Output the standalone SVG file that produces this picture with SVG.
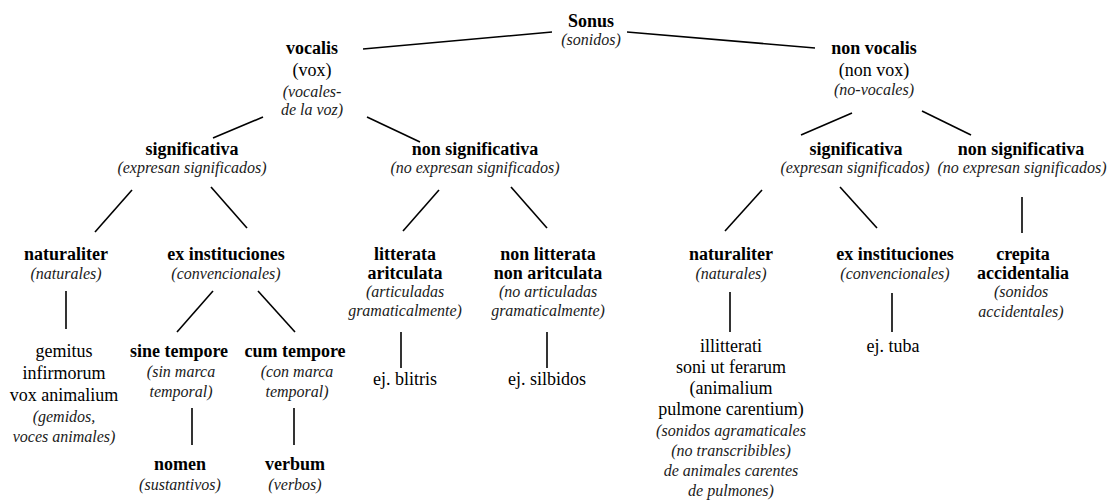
<svg xmlns="http://www.w3.org/2000/svg" width="1109" height="501" viewBox="0 0 1109 501">
<style>
text{fill:#000;text-anchor:middle}
.b{font-weight:bold;font-size:18px}
.r{font-size:18px}
.i{font-style:italic;font-size:16px;fill:#1a1a1a}
.c line{stroke:#000;stroke-width:1.6}
</style>
<rect width="1109" height="501" fill="#fff"/>
<g class="c" id="connectors">
<line x1="363" y1="49" x2="552" y2="32"/>
<line x1="627" y1="32" x2="815" y2="48"/>
<line x1="263" y1="117" x2="213" y2="138"/>
<line x1="367" y1="117" x2="420" y2="142"/>
<line x1="852" y1="113" x2="801" y2="135"/>
<line x1="922" y1="111" x2="971" y2="135"/>
<line x1="132" y1="190" x2="95" y2="232"/>
<line x1="211" y1="187" x2="247" y2="228"/>
<line x1="439" y1="190" x2="403" y2="231"/>
<line x1="511" y1="187" x2="547" y2="228"/>
<line x1="762" y1="190" x2="725" y2="231"/>
<line x1="840" y1="187" x2="877" y2="228"/>
<line x1="1022" y1="197" x2="1022" y2="233"/>
<line x1="66" y1="291" x2="66" y2="329"/>
<line x1="213" y1="291" x2="177" y2="332"/>
<line x1="258" y1="291" x2="295" y2="332"/>
<line x1="401" y1="332" x2="401" y2="368"/>
<line x1="547" y1="332" x2="547" y2="368"/>
<line x1="730" y1="292" x2="730" y2="332"/>
<line x1="892" y1="293" x2="892" y2="332"/>
<line x1="192" y1="408" x2="192" y2="445"/>
<line x1="294" y1="408" x2="294" y2="445"/>
</g>
<g id="nodes" font-family="Liberation Serif">
<g id="sonus"><text class="b" x="591" y="27">Sonus</text><text class="i" x="591" y="45">(sonidos)</text></g>
<g id="vocalis"><text class="b" x="312" y="54">vocalis</text><text class="r" x="312" y="76">(vox)</text><text class="i" x="312" y="97">(vocales-</text><text class="i" x="312" y="115">de la voz)</text></g>
<g id="non-vocalis"><text class="b" x="874" y="54">non vocalis</text><text class="r" x="874" y="76">(non vox)</text><text class="i" x="874" y="95">(no-vocales)</text></g>
<g id="sig-l"><text class="b" x="192" y="155">significativa</text><text class="i" x="192" y="173">(expresan significados)</text></g>
<g id="nonsig-l"><text class="b" x="475" y="155">non significativa</text><text class="i" x="475" y="173">(no expresan significados)</text></g>
<g id="sig-r"><text class="b" x="856" y="155">significativa</text><text class="i" x="855" y="173">(expresan significados)</text></g>
<g id="nonsig-r"><text class="b" x="1021" y="155">non significativa</text><text class="i" x="1022" y="173">(no expresan significados)</text></g>
<g id="nat-l"><text class="b" x="66" y="260">naturaliter</text><text class="i" x="66" y="279">(naturales)</text></g>
<g id="exinst-l"><text class="b" x="226" y="260">ex instituciones</text><text class="i" x="226" y="279">(convencionales)</text></g>
<g id="litterata"><text class="b" x="405" y="260">litterata</text><text class="b" x="405" y="279">aritculata</text><text class="i" x="405" y="297">(articuladas</text><text class="i" x="405" y="316">gramaticalmente)</text></g>
<g id="nonlitterata"><text class="b" x="548" y="260">non litterata</text><text class="b" x="548" y="279">non aritculata</text><text class="i" x="548" y="297">(no articuladas</text><text class="i" x="548" y="316">gramaticalmente)</text></g>
<g id="nat-r"><text class="b" x="731" y="260">naturaliter</text><text class="i" x="731" y="279">(naturales)</text></g>
<g id="exinst-r"><text class="b" x="895" y="260">ex instituciones</text><text class="i" x="895" y="279">(convencionales)</text></g>
<g id="crepita"><text class="b" x="1023" y="260">crepita</text><text class="b" x="1023" y="279">accidentalia</text><text class="i" x="1021" y="297">(sonidos</text><text class="i" x="1021" y="317">accidentales)</text></g>
<g id="gemitus"><text class="r" x="64" y="357">gemitus</text><text class="r" x="64" y="379">infirmorum</text><text class="r" x="64" y="401">vox animalium</text><text class="i" x="64" y="422">(gemidos,</text><text class="i" x="64" y="442">voces animales)</text></g>
<g id="sine"><text class="b" x="179" y="357">sine tempore</text><text class="i" x="181" y="377">(sin marca</text><text class="i" x="181" y="397">temporal)</text></g>
<g id="cum"><text class="b" x="295" y="357">cum tempore</text><text class="i" x="297" y="377">(con marca</text><text class="i" x="297" y="397">temporal)</text></g>
<g id="nomen"><text class="b" x="180" y="470">nomen</text><text class="i" x="180" y="490">(sustantivos)</text></g>
<g id="verbum"><text class="b" x="295" y="470">verbum</text><text class="i" x="295" y="490">(verbos)</text></g>
<g id="blitris"><text class="r" x="405" y="385">ej. blitris</text></g>
<g id="silbidos"><text class="r" x="547" y="385">ej. silbidos</text></g>
<g id="illitterati"><text class="r" x="731" y="352">illitterati</text><text class="r" x="731" y="373">soni ut ferarum</text><text class="r" x="731" y="394">(animalium</text><text class="r" x="731" y="415">pulmone carentium)</text><text class="i" x="731" y="436">(sonidos agramaticales</text><text class="i" x="731" y="456">(no transcribibles)</text><text class="i" x="731" y="476">de animales carentes</text><text class="i" x="731" y="496">de pulmones)</text></g>
<g id="tuba"><text class="r" x="893" y="352">ej. tuba</text></g>
</g>
</svg>
